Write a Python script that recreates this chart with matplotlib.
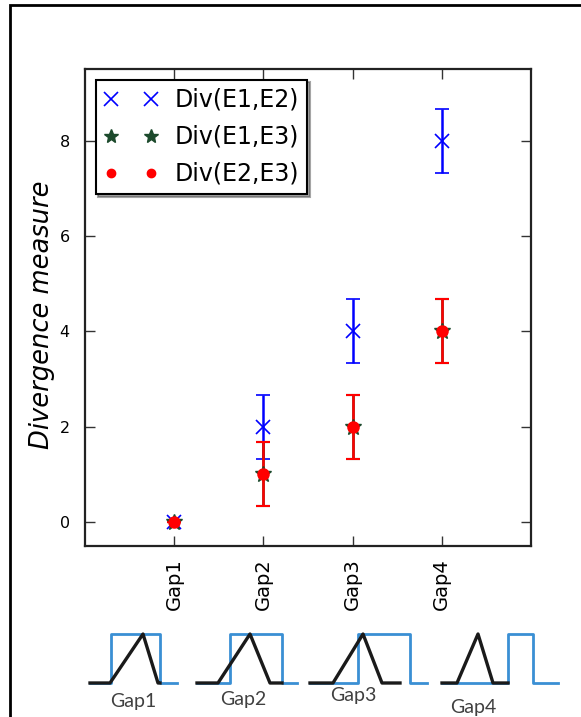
import matplotlib.pyplot as plt
from matplotlib.patches import Rectangle
from matplotlib.lines import Line2D

# data
gaps = ['Gap1', 'Gap2', 'Gap3', 'Gap4']
pos = [1, 2, 3, 4]
div_e1_e2 = [0, 2, 4, 8]
div_e1_e3 = [0, 1, 2, 4]
div_e2_e3 = [0, 1, 2, 4]
err_e1_e2 = [0, 0.67, 0.67, 0.67]
err_e1_e3 = [0, 0.67, 0.67, 0.67]
err_e2_e3 = [0, 0.67, 0.67, 0.67]

# schematic below the plot (pixel units of the figure)
panel_left = [90, 197, 310, 442]
tri_start = [110, 218, 333, 457]
tri_peak = [143, 250, 363, 478]
tri_end = [158, 270, 382, 493]
black_end = [160, 282, 400, 508]
rect_left = [111, 230, 358, 508]
rect_right = [160, 282, 410, 533]
panel_right = [177, 297, 427, 558]
label_x = [133, 243, 353, 473]
label_y = [702, 700, 695, 707]
base_y = 683
top_y = 634

W, H = 581, 717
fig = plt.figure(figsize=(W / 100, H / 100), dpi=100)

# schematic layer
sk = fig.add_axes([0, 0, 1, 1], zorder=0)
sk.set_xlim(0, W)
sk.set_ylim(H, 0)
sk.axis('off')
blue = '#3a8fd4'
for i in range(4):
    sk.plot([panel_left[i], rect_left[i], rect_left[i], rect_right[i], rect_right[i], panel_right[i]],
            [base_y, base_y, top_y, top_y, base_y, base_y], color=blue, lw=2)
    sk.plot([panel_left[i], tri_start[i], tri_peak[i], tri_end[i], black_end[i]],
            [base_y, base_y, top_y, base_y, base_y], color='#1a1a1a', lw=2.4)
    sk.text(label_x[i], label_y[i], gaps[i], ha='center', va='center',
            fontsize=14, family=['Lato', 'DejaVu Sans'], color='#404040')

# outer border
fig.add_artist(Rectangle((10 / W, -0.5), 2, 0.5 + 1 - 5 / H, transform=fig.transFigure,
                         fill=False, edgecolor='black', lw=2))

ax = fig.add_axes([85 / W, 1 - 546 / H, (531 - 85) / W, (546 - 69) / H], zorder=1)
ax.patch.set_alpha(0)

green = '#1c4a2c'
ax.errorbar(pos, div_e1_e2, yerr=err_e1_e2, fmt='x', color='b', ms=10, mew=1.2,
            elinewidth=1.8, capsize=5, capthick=1.5)
ax.errorbar(pos, div_e1_e3, yerr=err_e1_e3, fmt='*', color=green, ms=12,
            elinewidth=1.8, capsize=5, capthick=1.5)
ax.errorbar(pos, div_e2_e3, yerr=err_e2_e3, fmt='o', color='r', mec='r', ms=8,
            elinewidth=1.8, capsize=5, capthick=1.5)

ax.set_xlim(0, 5)
ax.set_ylim(-0.5, 9.5)
ax.set_yticks([0, 2, 4, 6, 8])
ax.set_xticks(pos)
ax.set_xticklabels(gaps, rotation=90, fontsize=14)
ax.tick_params(axis='x', pad=9)
ax.tick_params(axis='y', labelsize=11.5, pad=11)
ax.tick_params(direction='in', top=True, right=True, length=7, width=1, color='#333333')
for s in ax.spines.values():
    s.set_linewidth(1.6)
    s.set_color('#222222')
ax.set_ylabel('Divergence measure', fontsize=18.5, style='italic')
ax.yaxis.set_label_coords(-0.068, 0.484)

handles = [
    Line2D([], [], ls='none', marker='x', color='b', ms=10, mew=1.2),
    Line2D([], [], ls='none', marker='*', color=green, ms=10),
    Line2D([], [], ls='none', marker='o', color='r', ms=6),
]
labels = ['Div(E1,E2)', 'Div(E1,E3)', 'Div(E2,E3)']
leg = ax.legend(handles, labels, loc='upper left', numpoints=2, fontsize=17, shadow=True,
                fancybox=False, handlelength=2.3, handletextpad=0.7, borderaxespad=0.45,
                labelspacing=0.55, borderpad=0.35)
leg.get_frame().set_edgecolor('black')
leg.get_frame().set_linewidth(1.5)

fig.savefig('out.png', dpi=100)
